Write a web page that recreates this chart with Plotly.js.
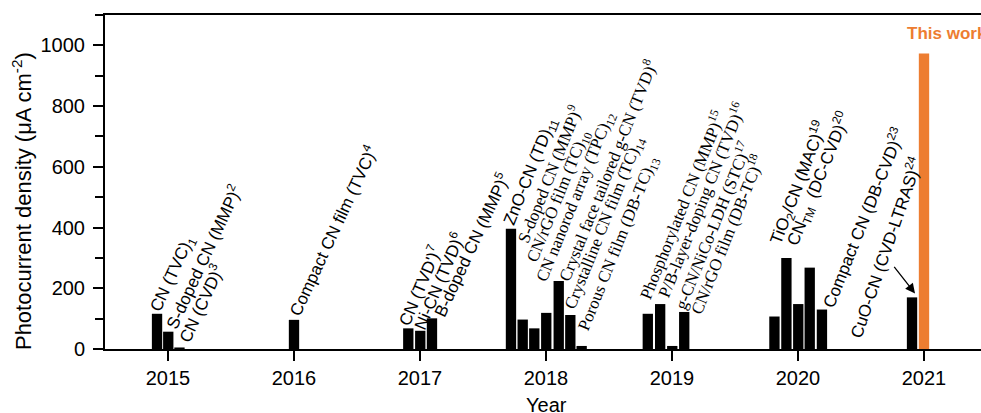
<!DOCTYPE html>
<html>
<head>
<meta charset="utf-8">
<script src="https://cdn.plot.ly/plotly-3.0.1.min.js"></script>
<style>
  html, body { margin: 0; padding: 0; overflow: hidden; background: #fff; }
  #chart { width: 990px; height: 413px; }
</style>
</head>
<body>
<div id="chart"></div>
<script>
// Reported photocurrent densities of CN photoelectrodes, by publication year
const barYears = [
  2014.913, 2015.002, 2015.091,
  2016.0,
  2016.907, 2017.002, 2017.095,
  2017.722, 2017.815, 2017.907, 2018.002, 2018.101, 2018.193, 2018.283,
  2018.808, 2018.906, 2019.002, 2019.097,
  2019.813, 2019.908, 2020.002, 2020.093, 2020.190,
  2020.905
];
const barValues = [
  116, 57, 5,
  96,
  68, 60, 101,
  396, 97, 68, 119, 224, 112, 10,
  116, 148, 10, 122,
  107, 300, 148, 268, 130,
  170
];
const barLabels = [
  'CN (TVC)<sub>1</sub>', 'S-doped CN (MMP)<sup>2</sup>', 'CN (CVD)<sup>3</sup>',
  'Compact CN film (TVC)<sup>4</sup>',
  "CN (TVD')<sup>7</sup>", 'Ni-CN (TVD)<sup>6</sup>', 'B-doped CN (MMP)<sup>5</sup>',
  'ZnO-CN (TD)<sub>11</sub>', 'S-doped CN (MMP)<sup>9</sup>', 'CN/rGO film (TC)<sub>10</sub>',
  'CN nanorod array (TPC)<sub>12</sub>', 'Crystal face tailored g-CN (TVD)<sup>8</sup>',
  'Crystalline CN film (TC)<sub>14</sub>', 'Porous CN film (DB-TC)<sub>13</sub>',
  'Phosphorylated CN (MMP)<sup>15</sup>', 'P/B-layer-doping CN (TVD)<sup>16</sup>',
  'g-CN/NiCo-LDH (STC)<sup>17</sup>', 'CN/rGO film (DB-TC)<sup>18</sup>',
  'TiO<sub>2</sub>/CN (MAC)<sup>19</sup>', 'CN<sub>TM</sub>  (DC-CVD)<sup>20</sup>', null, null,
  'Compact CN (DB-CVD)<sup>23</sup>',
  'CuO-CN (CVD-LTRAS)<sup>24</sup>'
];
const thisWorkYear = 2021.0;
const thisWorkValue = 973;
const thisWorkLabel = 'This work';
const tickYears = [2015, 2016, 2017, 2018, 2019, 2020, 2021];

// Label styling: serif flag, offset of the text start from the bar's top-left corner (px), angle
const serifLabel = [0,0,0, 0, 0,0,0, 0,1,1,1,1,1,1, 1,1,1,1, 0,0,0,0,0, 0];
const labelDx    = [0,2,4, 0, -5,-1,7, -1,-1,-1,-3,4,1,3, -4,2,7,11, 0,5,0,0,5, -57];
const labelLift  = [2,4,6, 5, 4,3,3, 4,78,67,32,1,7,16, 16,8,38,-1, 73,13,0,0,3, -39];
const labelAngle = [-65,-65,-65, -65, -67,-67,-65, -68,-68,-68,-68,-68,-68,-68, -68,-68,-68,-68, -69,-68,-68,-68,-68, -71];
const ANCHOR_DX = -8, ANCHOR_DY = -7;

const BAR_W = 0.082;
const SANS = 'Liberation Sans, Arial, sans-serif';
const SERIF = 'Liberation Serif, Times New Roman, serif';
const ORANGE = '#ED7D31';

const traces = [
  {
    type: 'bar', x: barYears, y: barValues, width: BAR_W,
    marker: { color: '#000', line: { width: 0 } },
    hoverinfo: 'skip'
  },
  {
    type: 'bar', x: [thisWorkYear], y: [thisWorkValue], width: BAR_W,
    marker: { color: ORANGE, line: { width: 0 } },
    hoverinfo: 'skip'
  }
];

const annotations = [];
barLabels.forEach((t, i) => {
  if (!t) return;
  annotations.push({
    x: barYears[i] - BAR_W / 2, y: barValues[i], xref: 'x', yref: 'y',
    text: t, showarrow: false, textangle: labelAngle[i],
    xanchor: 'left', yanchor: 'bottom',
    xshift: labelDx[i] + ANCHOR_DX, yshift: labelLift[i] + ANCHOR_DY,
    font: { family: serifLabel[i] ? SERIF : SANS, size: 17, color: '#000' }
  });
});
// arrow pointing from the CuO-CN label to its bar
const last = barLabels.length - 1;
annotations.push({
  x: barYears[last], y: barValues[last], xref: 'x', yref: 'y',
  text: '', showarrow: true, arrowhead: 2, arrowsize: 1.5, arrowwidth: 1.3,
  arrowcolor: '#000', ax: -22, ay: -28, standoff: 0, xshift: 3, yshift: 4
});
annotations.push({
  x: 2020.85, y: 1040, xref: 'x', yref: 'y',
  text: '<b>' + thisWorkLabel + '</b>', showarrow: false,
  xanchor: 'left', yanchor: 'middle',
  font: { family: SANS, size: 17, color: ORANGE }
});
// axis titles
annotations.push({
  xref: 'paper', yref: 'paper', x: 0, y: 0.443, xshift: -83,
  text: 'Photocurrent density (μA cm<sup>-2</sup>)', showarrow: false,
  textangle: -90, xanchor: 'center', yanchor: 'middle',
  font: { family: SANS, size: 22, color: '#000' }
});
annotations.push({
  xref: 'paper', yref: 'paper', x: 0.5, y: -0.168,
  text: 'Year', showarrow: false, xanchor: 'center', yanchor: 'middle',
  font: { family: SANS, size: 20, color: '#000' }
});

const layout = {
  width: 990, height: 413,
  margin: { l: 105, r: 3, t: 15, b: 64 },
  paper_bgcolor: '#fff', plot_bgcolor: '#fff',
  showlegend: false, barmode: 'overlay',
  font: { family: SANS, size: 20, color: '#000' },
  xaxis: {
    range: [2014.5, 2021.5], tickvals: tickYears, ticktext: tickYears.map(String),
    ticks: 'outside', ticklen: 10, tickwidth: 2, tickcolor: '#000',
    showline: true, linewidth: 2, linecolor: '#000', mirror: true,
    showgrid: false, zeroline: false,
    tickfont: { family: SANS, size: 20, color: '#000' }
  },
  yaxis: {
    range: [0, 1100], tickvals: [0, 200, 400, 600, 800, 1000],
    ticks: 'outside', ticklen: 10, tickwidth: 2, tickcolor: '#000',
    minor: { dtick: 100, tick0: 0, ticks: 'outside', ticklen: 8, tickwidth: 2, tickcolor: '#000', showgrid: false },
    showline: true, linewidth: 2, linecolor: '#000', mirror: true,
    showgrid: false, zeroline: false, ticklabelstandoff: 4,
    tickfont: { family: SANS, size: 20, color: '#000' }
  },
  annotations: annotations
};

Plotly.newPlot('chart', traces, layout, { displayModeBar: false, staticPlot: true });
</script>
</body>
</html>
